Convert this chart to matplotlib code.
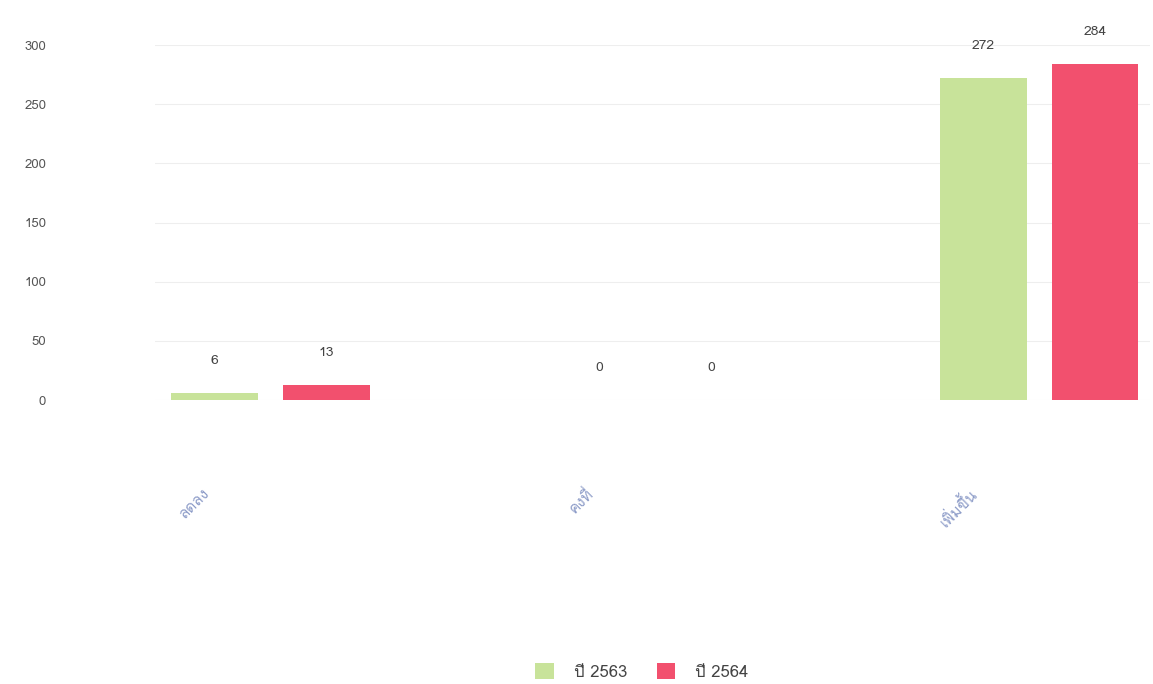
import matplotlib.pyplot as plt
from matplotlib import font_manager, ft2font
import numpy as np

# chart data
categories = ["ลดลง", "คงที่", "เพิ่มขึ้น"]
series_names = ["ปี 2563", "ปี 2564"]
values_a = [6, 0, 272]
values_b = [13, 0, 284]
y_ticks = [0, 50, 100, 150, 200, 250, 300]

green = '#c8e39a'
red = '#f2506e'


def thai_family():
    # look for any installed font that has Thai glyphs
    for f in font_manager.fontManager.ttflist:
        try:
            if 0x0E01 in ft2font.FT2Font(f.fname).get_charmap():
                return f.name
        except Exception:
            pass
    return None


fam = thai_family()
plt.rcParams['font.family'] = ([fam] if fam else []) + ['DejaVu Sans']

fig = plt.figure(figsize=(11.53, 6.84), dpi=100)
ax = fig.add_axes([0.134, 0.415, 0.863, 0.519])

x = np.arange(len(categories))
w = 0.226
bars_a = ax.bar(x - 0.143, values_a, w, color=green, label=series_names[0], zorder=3)
bars_b = ax.bar(x + 0.148, values_b, w, color=red, label=series_names[1], zorder=3)

# value labels above bars
for bars, vals in [(bars_a, values_a), (bars_b, values_b)]:
    for b, v in zip(bars, vals):
        ax.annotate(str(v), (b.get_x() + b.get_width() / 2, v),
                    xytext=(0, 23), textcoords='offset points',
                    ha='center', va='center', fontsize=10, color='#444444',
                    annotation_clip=False)

ax.set_xlim(-0.3, 2.29)
ax.set_ylim(0, 300)
ax.set_yticks(y_ticks)
ax.set_yticklabels([str(t) for t in y_ticks], fontsize=9.5, color='#555555')
ax.tick_params(axis='y', length=0, pad=78)
ax.set_xticks([])
ax.grid(axis='y', color='#eeeeee', linewidth=0.8, zorder=0)
for s in ax.spines.values():
    s.set_visible(False)

# rotated category labels below the axis
trans = ax.get_xaxis_transform()
for i, c in enumerate(categories):
    ax.text(i - 0.15, -0.24, c, transform=trans, rotation=45,
            ha='right', va='top', fontsize=11, color='#8d9cc8')

ax.legend(loc='center', bbox_to_anchor=(0.49, -0.766), ncol=2,
          frameon=False, fontsize=12, handlelength=1.1, handleheight=1.1,
          handletextpad=1.2, columnspacing=1.8, labelcolor='#444444')

fig.savefig('out.png', dpi=100)
